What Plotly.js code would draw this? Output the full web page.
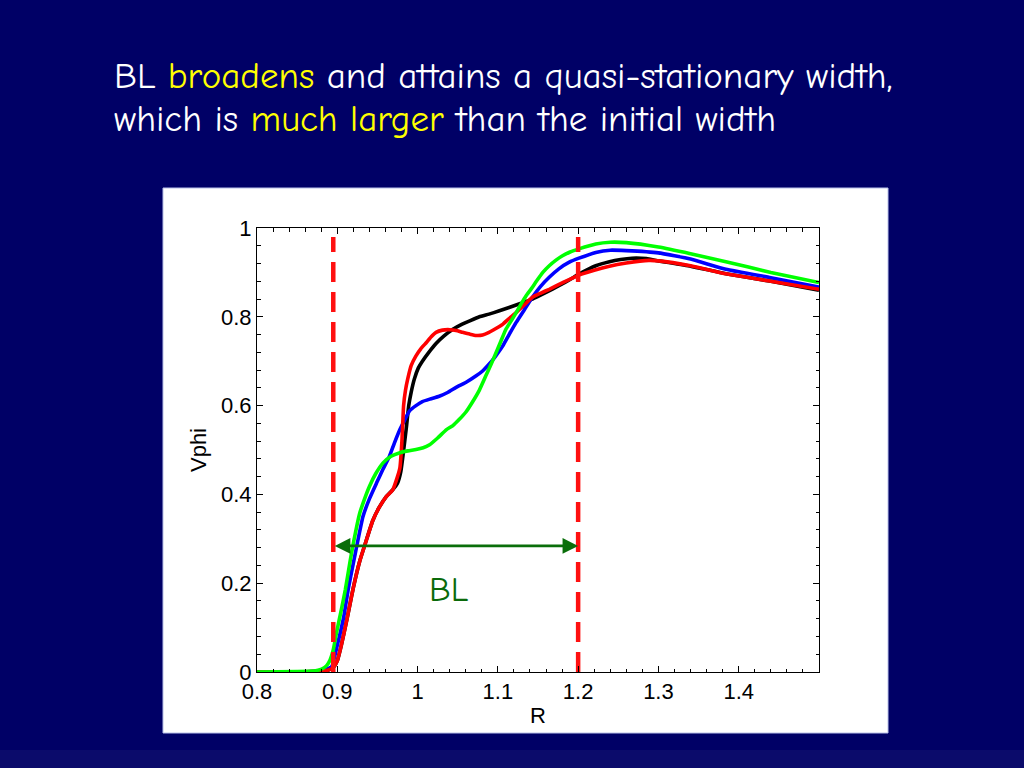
<!DOCTYPE html>
<html>
<head>
<meta charset="utf-8">
<script src="https://cdn.plot.ly/plotly-3.0.1.min.js"></script>
<style>html,body{margin:0;padding:0;background:#000066;}#chart{width:1024px;height:768px;}</style>
</head>
<body>
<div id="chart"></div>
<script>
// ---- data ----
const blackR = [0.80,0.85,0.87,0.88,0.888,0.895,0.90,0.905,0.911,0.9155,0.92,0.928,0.935,0.944,0.952,0.961,0.969,0.975,0.979,0.982,0.986,0.989,0.992,0.996,1.001,1.006,1.014,1.023,1.033,1.044,1.055,1.065,1.077,1.089,1.101,1.114,1.128,1.143,1.16,1.176,1.19,1.201,1.222,1.239,1.253,1.267,1.285,1.30,1.34,1.384,1.44,1.50];
const blackV = [0.0,0.0,0.001,0.002,0.004,0.01,0.025,0.06,0.11,0.15,0.19,0.25,0.29,0.34,0.37,0.395,0.41,0.425,0.45,0.49,0.55,0.60,0.63,0.66,0.685,0.70,0.72,0.74,0.757,0.772,0.783,0.791,0.80,0.806,0.813,0.821,0.83,0.84,0.855,0.87,0.884,0.896,0.915,0.924,0.929,0.932,0.931,0.926,0.914,0.897,0.88,0.86];

const redR = [0.80,0.85,0.87,0.88,0.888,0.895,0.90,0.905,0.911,0.9155,0.92,0.928,0.935,0.944,0.952,0.961,0.969,0.975,0.978,0.9805,0.9826,0.985,0.9876,0.992,0.998,1.004,1.011,1.017,1.023,1.031,1.04,1.048,1.056,1.065,1.073,1.081,1.089,1.097,1.106,1.114,1.123,1.133,1.143,1.153,1.164,1.182,1.201,1.22,1.239,1.26,1.288,1.30,1.34,1.384,1.44,1.50];
const redV = [0,0,0.001,0.002,0.004,0.01,0.025,0.06,0.11,0.15,0.19,0.25,0.29,0.34,0.37,0.395,0.41,0.44,0.46,0.52,0.60,0.635,0.659,0.69,0.712,0.728,0.742,0.755,0.765,0.77,0.771,0.769,0.765,0.761,0.758,0.759,0.765,0.773,0.783,0.796,0.81,0.827,0.844,0.853,0.862,0.878,0.894,0.905,0.914,0.921,0.927,0.926,0.915,0.897,0.88,0.862];

const blueR = [0.80,0.85,0.87,0.88,0.886,0.893,0.90,0.908,0.914,0.92,0.9245,0.932,0.94,0.949,0.957,0.965,0.971,0.978,0.984,0.99,0.998,1.006,1.016,1.027,1.038,1.048,1.06,1.073,1.081,1.089,1.097,1.106,1.114,1.123,1.133,1.143,1.153,1.164,1.176,1.189,1.201,1.222,1.24,1.26,1.30,1.34,1.384,1.44,1.50];
const blueV = [0,0,0.001,0.003,0.006,0.012,0.06,0.124,0.19,0.245,0.286,0.35,0.39,0.426,0.457,0.486,0.515,0.546,0.568,0.588,0.6,0.609,0.615,0.621,0.63,0.641,0.652,0.667,0.678,0.693,0.711,0.734,0.76,0.788,0.816,0.844,0.868,0.889,0.908,0.923,0.932,0.945,0.95,0.949,0.944,0.93,0.907,0.888,0.867];

const greenR = [0.80,0.85,0.87,0.876,0.882,0.887,0.891,0.895,0.899,0.905,0.91,0.916,0.9196,0.928,0.934,0.940,0.948,0.957,0.967,0.978,0.988,0.998,1.007,1.015,1.025,1.036,1.044,1.052,1.06,1.068,1.077,1.085,1.092,1.098,1.104,1.11,1.117,1.123,1.129,1.135,1.142,1.148,1.156,1.164,1.172,1.18,1.19,1.201,1.222,1.24,1.26,1.30,1.34,1.384,1.44,1.50];
const greenV = [0,0.001,0.002,0.004,0.008,0.015,0.027,0.05,0.088,0.14,0.185,0.25,0.286,0.358,0.39,0.418,0.447,0.471,0.486,0.494,0.498,0.501,0.505,0.512,0.527,0.546,0.555,0.569,0.585,0.607,0.635,0.667,0.695,0.72,0.746,0.772,0.792,0.81,0.829,0.847,0.864,0.88,0.9,0.915,0.927,0.937,0.946,0.953,0.964,0.968,0.967,0.957,0.942,0.924,0.90,0.877];

const boundaryR = [0.895, 1.2];      // BL edges (red dashed lines)
const boundaryV = [0, 0.98];
const arrowV = 0.284;                // level of the BL arrow
const blLabel = {text: 'BL', R: 1.039, V: 0.185};

const xTickVals = [0.8, 0.9, 1.0, 1.1, 1.2, 1.3, 1.4];
const xTickText = ['0.8', '0.9', '1', '1.1', '1.2', '1.3', '1.4'];
const yTickVals = [0, 0.2, 0.4, 0.6, 0.8, 1];
const yTickText = ['0', '0.2', '0.4', '0.6', '0.8', '1'];

const titleLine1 = 'BL <span style="color:#ffff00">broadens</span> and attains a quasi-stationary width,';
const titleLine2 = 'which is <span style="color:#ffff00">much larger</span> than the initial width';

// ---- chart ----
function curve(x, y, color) {
  return {x: x, y: y, type: 'scatter', mode: 'lines', hoverinfo: 'skip',
          line: {color: color, width: 3.6, shape: 'spline', smoothing: 0.4}};
}
const traces = [
  curve(blackR, blackV, '#000000'),
  curve(blueR, blueV, '#0000ff'),
  curve(redR, redV, '#ff0000'),
  curve(greenR, greenV, '#00ff00')
];
boundaryR.forEach(function (r) {
  traces.push({x: [r, r], y: boundaryV, type: 'scatter', mode: 'lines', hoverinfo: 'skip',
               line: {color: '#ff1010', width: 4.5, dash: '20px,10px'}});
});

const tickFont = {family: 'Liberation Sans, Arial, sans-serif', size: 22, color: '#000000'};
const casual = '"Comic Sans MS", "Comic Neue", "Open Sans", sans-serif';

// plot area in pixels: x 257..819, y 228..672
const PL = 257, PR = 819, PT = 228, PB = 672;
const pw = PR - PL, ph = PB - PT;
function px(x) { return (x - PL) / pw; }
function py(y) { return (PB - y) / ph; }

const layout = {
  width: 1024, height: 768,
  margin: {l: PL, r: 1024 - PR, t: PT, b: 768 - PB, pad: 0},
  paper_bgcolor: '#000066',
  plot_bgcolor: '#ffffff',
  showlegend: false,
  xaxis: {
    range: [0.8, 1.5], tickvals: xTickVals, ticktext: xTickText,
    ticks: 'inside', ticklen: 6, tickwidth: 1, tickcolor: '#000',
    minor: {dtick: 0.02, tick0: 0.8, ticks: 'inside', ticklen: 3.5, tickcolor: '#000', showgrid: false},
    showline: true, linecolor: '#000', linewidth: 1, mirror: 'allticks',
    showgrid: false, zeroline: false, tickfont: tickFont,
    title: {text: 'R', font: tickFont, standoff: 4},
    automargin: false
  },
  yaxis: {
    range: [0, 1], tickvals: yTickVals, ticktext: yTickText,
    ticks: 'inside', ticklen: 6, tickwidth: 1, tickcolor: '#000',
    minor: {dtick: 0.04, tick0: 0, ticks: 'inside', ticklen: 3.5, tickcolor: '#000', showgrid: false},
    showline: true, linecolor: '#000', linewidth: 1, mirror: 'allticks',
    showgrid: false, zeroline: false, tickfont: tickFont,
    title: {text: 'Vphi', font: tickFont, standoff: 8},
    automargin: false
  },
  shapes: [
    {type: 'rect', xref: 'paper', yref: 'paper', layer: 'below',
     x0: px(163), x1: px(888), y0: py(733), y1: py(188),
     fillcolor: '#ffffff', line: {color: '#b8c0e8', width: 1}},
    {type: 'rect', xref: 'paper', yref: 'paper', layer: 'below',
     x0: px(0), x1: px(1024), y0: py(768), y1: py(750),
     fillcolor: '#0b0b6b', line: {width: 0}}
  ],
  annotations: [
    {xref: 'paper', yref: 'paper', x: px(112), y: py(76), xanchor: 'left', yanchor: 'middle',
     text: titleLine1, showarrow: false, align: 'left',
     font: {family: casual, size: 37, color: '#ffffff'}},
    {xref: 'paper', yref: 'paper', x: px(112), y: py(119), xanchor: 'left', yanchor: 'middle',
     text: titleLine2, showarrow: false, align: 'left',
     font: {family: casual, size: 37, color: '#ffffff'}},
    {xref: 'x', yref: 'y', axref: 'x', ayref: 'y',
     x: boundaryR[1], y: arrowV, ax: boundaryR[0], ay: arrowV,
     text: '', showarrow: true, arrowside: 'end+start', arrowhead: 2, arrowsize: 1.2,
     arrowwidth: 2.6, arrowcolor: '#0a6e0a', standoff: 0, startstandoff: 0},
    {xref: 'x', yref: 'y', x: blLabel.R, y: blLabel.V, text: blLabel.text, showarrow: false,
     font: {family: casual, size: 35, color: '#0a6a0a'}}
  ]
};

Plotly.newPlot('chart', traces, layout, {displayModeBar: false, staticPlot: true});
</script>
</body>
</html>
